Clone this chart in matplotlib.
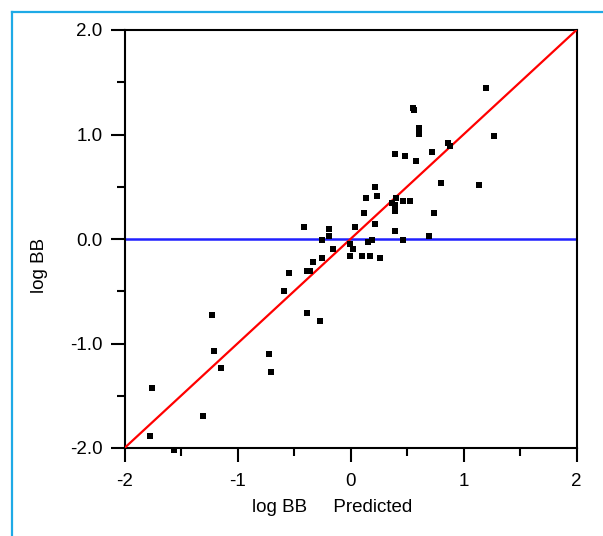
import matplotlib
matplotlib.use('Agg')
import matplotlib.pyplot as plt
from matplotlib.lines import Line2D

plt.rcParams['font.family'] = ['Liberation Sans', 'DejaVu Sans']

font_size = 13.5

# observed vs predicted log BB
pred = [1.196, 0.550, 0.566, 0.610, 0.610, 1.267, 0.862, 0.882, 0.395, 0.486,
        0.723, 0.584, 0.805, 1.133, 0.468, 0.530, 0.743, 0.692, 0.468, 0.220,
        0.140, 0.235, 0.399, 0.371, 0.392, 0.392, 0.122, -0.410, -0.193, 0.043,
        0.220, -0.193, 0.392, -0.250, 0.158, 0.193, -0.153, -0.002, 0.025, -0.250,
        -0.002, 0.102, 0.176, 0.260, -0.330, -0.543, -0.381, -0.355, -0.587, -1.226,
        -0.383, -0.268, -1.208, -1.146, -0.720, -0.702, -1.754, -1.306, -1.776, -1.563]
obs = [1.442, 1.249, 1.232, 1.065, 1.002, 0.983, 0.916, 0.890, 0.811, 0.791,
       0.830, 0.744, 0.536, 0.517, 0.364, 0.364, 0.246, 0.032, -0.010, 0.495,
       0.389, 0.409, 0.389, 0.347, 0.322, 0.265, 0.246, 0.112, 0.093, 0.112,
       0.141, 0.032, 0.074, -0.010, -0.032, -0.010, -0.099, -0.051, -0.099, -0.182,
       -0.163, -0.163, -0.163, -0.182, -0.223, -0.328, -0.309, -0.309, -0.500, -0.730,
       -0.705, -0.788, -1.067, -1.232, -1.103, -1.276, -1.426, -1.697, -1.888, -2.016]

fit_x = [-2, 2]
fit_y = [-2, 2]
baseline = 0.0

fig = plt.figure(figsize=(6.03, 5.36), dpi=100)
ax = fig.add_axes([124.5 / 603, 1 - 448 / 536, 452 / 603, 418 / 536])

ax.axhline(baseline, color='#2020ff', lw=1.8, zorder=2)
ax.plot(fit_x, fit_y, color='#ff0000', lw=1.6, zorder=3)
ax.plot(pred, obs, ls='none', marker='s', ms=3.7, mew=0,
        color='black', zorder=4, clip_on=False)

ax.set_xlim(-2, 2)
ax.set_ylim(-2, 2)
ax.set_xticks([-2, -1, 0, 1, 2])
ax.set_xticklabels(['-2', '-1', '0', '1', '2'])
ax.set_xticks([-1.5, -0.5, 0.5, 1.5], minor=True)
ax.set_yticks([-2, -1, 0, 1, 2])
ax.set_yticklabels(['-2.0', '-1.0', '0.0', '1.0', '2.0'])
ax.set_yticks([-1.5, -0.5, 0.5, 1.5], minor=True)

ax.tick_params(axis='both', which='major', direction='out', length=10,
               width=1.5, labelsize=font_size, pad=6)
ax.tick_params(axis='x', which='major', pad=8)
ax.tick_params(axis='both', which='minor', direction='out', length=5.5,
               width=1.5)
for s in ax.spines.values():
    s.set_linewidth(1.5)

fig.text(40 / 603, 1 - 265 / 536, 'log BB', rotation=90, ha='center',
         va='center', fontsize=font_size)
fig.text(332 / 603, 1 - 507 / 536, 'log BB     Predicted', ha='center',
         va='center', fontsize=font_size)

# light blue frame on the left and top
frame = '#1eaae6'
fig.add_artist(Line2D([11.5 / 603, 11.5 / 603], [0, 1 - 11.5 / 536],
                      color=frame, lw=1.6, transform=fig.transFigure))
fig.add_artist(Line2D([11.5 / 603, 1], [1 - 11.5 / 536, 1 - 11.5 / 536],
                      color=frame, lw=1.6, transform=fig.transFigure))

plt.savefig('out.png', dpi=100)
